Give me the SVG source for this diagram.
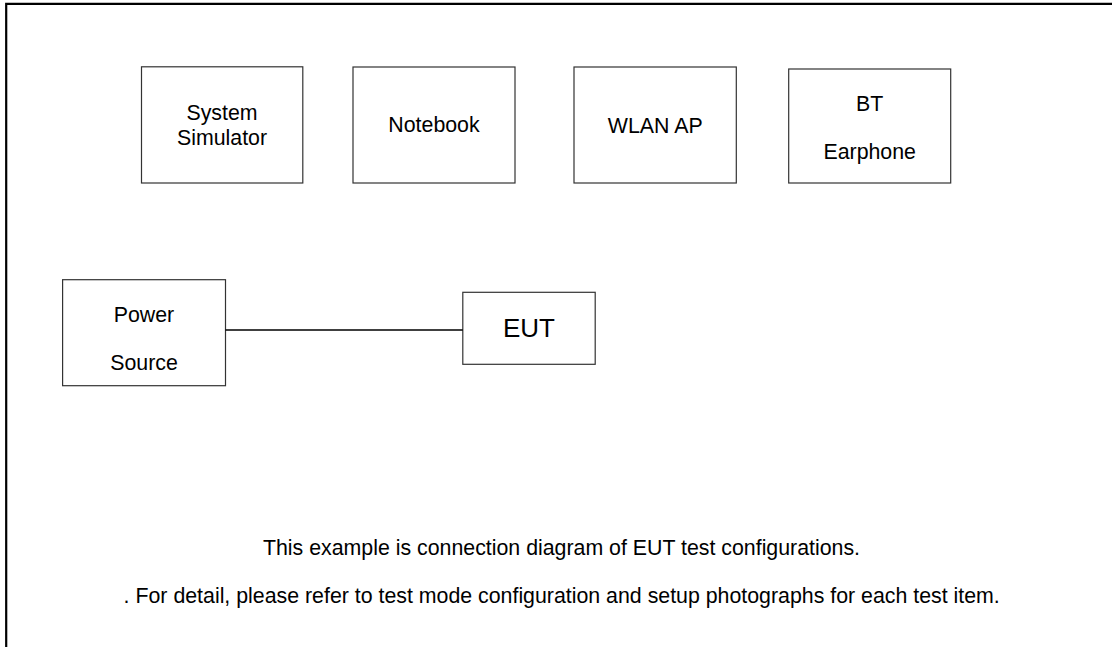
<svg xmlns="http://www.w3.org/2000/svg" width="1112" height="647" viewBox="0 0 1112 647">
<style>
.box{fill:#fff;stroke:#333;stroke-width:1.2}
.t{font-family:"Liberation Sans",Arial,sans-serif;font-size:21.33px;fill:#000;text-anchor:middle}
.big{font-size:26px}
.frame{stroke:#000;stroke-width:2.2;fill:none}
.conn{stroke:#000;stroke-width:1.5;fill:none}
</style>
<rect width="1112" height="647" fill="#fff"/>
<g id="frame">
<path class="frame" d="M6.2,647 V3.8 H1112"/>
</g>
<g id="system-simulator">
<rect class="box" x="141.5" y="66.8" width="161.3" height="116.2"/>
<text class="t" x="222" y="120">System</text>
<text class="t" x="222" y="145">Simulator</text>
</g>
<g id="notebook">
<rect class="box" x="353" y="67" width="162" height="116"/>
<text class="t" x="434" y="132">Notebook</text>
</g>
<g id="wlan-ap">
<rect class="box" x="574" y="67" width="162.3" height="116"/>
<text class="t" x="655.2" y="132.7">WLAN AP</text>
</g>
<g id="bt-earphone">
<rect class="box" x="788.7" y="69" width="162" height="114"/>
<text class="t" x="869.7" y="111">BT</text>
<text class="t" x="869.7" y="159.3">Earphone</text>
</g>
<g id="power-source">
<rect class="box" x="62.6" y="279.7" width="162.9" height="106"/>
<text class="t" x="144" y="322.3">Power</text>
<text class="t" x="144" y="370">Source</text>
</g>
<g id="eut">
<rect class="box" x="462.8" y="292.3" width="132.4" height="72"/>
<text class="t big" x="529" y="336.5">EUT</text>
</g>
<g id="connectors">
<line class="conn" x1="225.5" y1="330" x2="462.8" y2="330"/>
</g>
<g id="notes">
<text class="t" x="561.5" y="555">This example is connection diagram of EUT test configurations.</text>
<text class="t" x="561.7" y="603">. For detail, please refer to test mode configuration and setup photographs for each test item.</text>
</g>
</svg>
